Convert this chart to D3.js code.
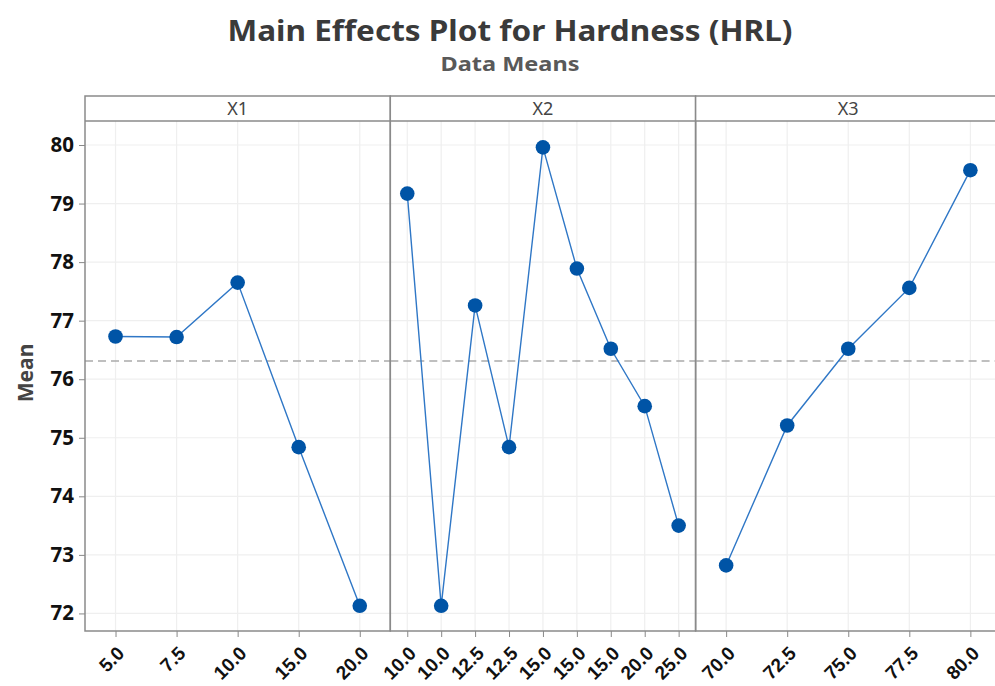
<!DOCTYPE html>
<html>
<head>
<meta charset="utf-8">
<script src="https://cdn.jsdelivr.net/npm/d3@7"></script>
<style>
  body { margin: 0; background: #fff; }
  svg { display: block; font-family: "Noto Sans", "Open Sans", sans-serif; }
</style>
</head>
<body>
<div id="chart"></div>
<script>
// Data
const factors = ["X1", "X2", "X3"];
const x1Levels = ["5.0", "7.5", "10.0", "15.0", "20.0"];
const x1Means = [76.73, 76.72, 77.65, 74.84, 72.13];
const x2Levels = ["10.0", "10.0", "12.5", "12.5", "15.0", "15.0", "15.0", "20.0", "25.0"];
const x2Means = [79.17, 72.13, 77.26, 74.84, 79.96, 77.89, 76.52, 75.54, 73.50];
const x3Levels = ["70.0", "72.5", "75.0", "77.5", "80.0"];
const x3Means = [72.82, 75.21, 76.52, 77.56, 79.57];
const grandMean = 76.31;
const yTicks = [72, 73, 74, 75, 76, 77, 78, 79, 80];

const panels = [
    { name: factors[0], levels: x1Levels, means: x1Means },
    { name: factors[1], levels: x2Levels, means: x2Means },
    { name: factors[2], levels: x3Levels, means: x3Means }
];

const Width = 995, Height = 686;
const margin = { Top: 121, Left: 85, Bottom: 55 };
const stripH = 25;
const panelW = 305.3;
const plotBottom = Height - margin.Bottom;

const svg = d3.select("#chart")
    .append("svg")
        .attr("width", Width)
        .attr("height", Height);

// Title
svg.append("text")
    .attr("x", 510).attr("y", 41)
    .attr("text-anchor", "middle")
    .attr("font-size", 28).attr("font-weight", 700)
    .attr("fill", "#3a3a3a")
    .attr("textLength", 565).attr("lengthAdjust", "spacingAndGlyphs")
    .text("Main Effects Plot for Hardness (HRL)");
svg.append("text")
    .attr("x", 510).attr("y", 71)
    .attr("text-anchor", "middle")
    .attr("font-size", 20).attr("font-weight", 700)
    .attr("fill", "#595959")
    .attr("textLength", 139).attr("lengthAdjust", "spacingAndGlyphs")
    .text("Data Means");

// Y axis
const yScale = d3.scaleLinear()
    .domain([71.70, 80.41])
    .range([plotBottom, margin.Top]);

// horizontal grid across all panels
svg.append("g")
    .selectAll("line")
    .data(yTicks)
    .join("line")
        .attr("x1", margin.Left).attr("x2", Width)
        .attr("y1", d => yScale(d)).attr("y2", d => yScale(d))
        .attr("stroke", "#efefef").attr("stroke-width", 1.2);

const yAxis = svg.append("g")
    .attr("transform", `translate(${margin.Left}, 0)`)
    .call(d3.axisLeft(yScale).tickValues(yTicks).tickSizeInner(6).tickSizeOuter(0).tickPadding(5));
yAxis.select(".domain").remove();
yAxis.selectAll(".tick line").attr("stroke", "#888");
yAxis.selectAll(".tick text")
    .attr("font-size", 20.5).attr("font-weight", 700).attr("fill", "#111")
    .attr("font-family", "Noto Sans, sans-serif");

svg.append("text")
    .attr("transform", `translate(33, 373) rotate(-90)`)
    .attr("text-anchor", "middle")
    .attr("font-size", 21).attr("font-weight", 700)
    .attr("fill", "#444")
    .text("Mean");

// Panels
panels.forEach((p, i) => {
    const x0 = margin.Left + i * panelW;
    const g = svg.append("g").attr("transform", `translate(${x0}, 0)`);
    const idx = p.levels.map((_, j) => j);
    const xScale = d3.scalePoint()
        .domain(idx)
        .range([0, panelW])
        .padding(0.5);

    // vertical grid
    g.append("g")
        .selectAll("line")
        .data(idx)
        .join("line")
            .attr("x1", d => xScale(d)).attr("x2", d => xScale(d))
            .attr("y1", margin.Top).attr("y2", plotBottom)
            .attr("stroke", "#efefef").attr("stroke-width", 1.2);

    // x axis
    const xAxis = g.append("g")
        .attr("transform", `translate(0, ${plotBottom})`)
        .call(d3.axisBottom(xScale).tickFormat(d => p.levels[d]).tickSizeInner(6).tickSizeOuter(0));
    xAxis.select(".domain").remove();
    xAxis.selectAll(".tick line").attr("stroke", "#888");
    xAxis.selectAll(".tick text")
        .attr("font-size", 19).attr("font-weight", 700).attr("fill", "#111")
        .attr("text-anchor", "end")
        .attr("transform", "translate(0, 14) rotate(-45)")
        .attr("x", 0).attr("y", 0).attr("dy", "0.71em");

    // reference line (overall mean)
    g.append("line")
        .attr("x1", 0).attr("x2", panelW)
        .attr("y1", yScale(grandMean)).attr("y2", yScale(grandMean))
        .attr("stroke", "#aaa").attr("stroke-width", 1.5)
        .attr("stroke-dasharray", "8,5");

    // connecting line
    const line = d3.line()
        .x((d, j) => xScale(j))
        .y(d => yScale(d));
    g.append("path")
        .datum(p.means)
        .attr("d", line)
        .attr("fill", "none")
        .attr("stroke", "#2f77c6")
        .attr("stroke-width", 1.4);

    // markers
    g.append("g")
        .selectAll("circle")
        .data(p.means)
        .join("circle")
            .attr("cx", (d, j) => xScale(j))
            .attr("cy", d => yScale(d))
            .attr("r", 7.3)
            .attr("fill", "#0054a6");

    // strip
    g.append("rect")
        .attr("x", 0).attr("y", margin.Top - stripH)
        .attr("width", panelW).attr("height", stripH)
        .attr("fill", "#fff");
    g.append("text")
        .attr("x", panelW / 2).attr("y", margin.Top - 6)
        .attr("text-anchor", "middle")
        .attr("font-size", 18).attr("font-weight", 400)
        .attr("fill", "#444")
        .text(p.name);

    // frame
    g.append("rect")
        .attr("x", 0).attr("y", margin.Top - stripH)
        .attr("width", panelW).attr("height", plotBottom - margin.Top + stripH)
        .attr("fill", "none")
        .attr("stroke", "#8a8a8a").attr("stroke-width", 1.5);
    g.append("line")
        .attr("x1", 0).attr("x2", panelW)
        .attr("y1", margin.Top).attr("y2", margin.Top)
        .attr("stroke", "#8a8a8a").attr("stroke-width", 1.5);
});
</script>
</body>
</html>
